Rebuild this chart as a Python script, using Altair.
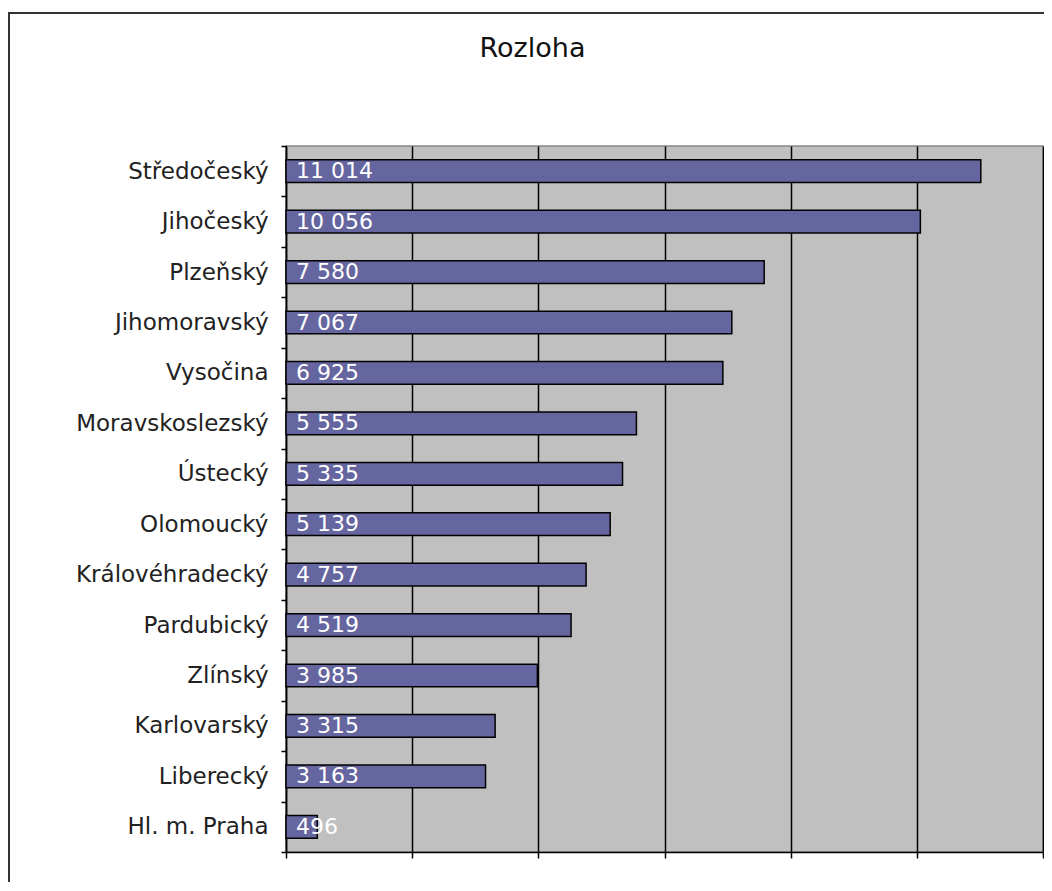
import altair as alt
import pandas as pd

kraje = ["Středočeský", "Jihočeský", "Plzeňský", "Jihomoravský", "Vysočina",
         "Moravskoslezský", "Ústecký", "Olomoucký", "Královéhradecký",
         "Pardubický", "Zlínský", "Karlovarský", "Liberecký", "Hl. m. Praha"]
rozloha = [11014, 10056, 7580, 7067, 6925, 5555, 5335, 5139, 4757, 4519,
           3985, 3315, 3163, 496]
x_ticks = [0, 2000, 4000, 6000, 8000, 10000, 12000]

df = pd.DataFrame({
    "kraj": kraje,
    "rozloha": rozloha,
    "label": [f"{v:,}".replace(",", " ") for v in rozloha],
})

FONT = "DejaVu Sans"

y_enc = alt.Y("kraj:N", sort=kraje, title=None,
              scale=alt.Scale(paddingInner=0, paddingOuter=0),
              axis=alt.Axis(tickBand="extent", tickSize=5, tickColor="#000",
                            tickWidth=1.5, domainColor="#000", domainWidth=1.5,
                            labelFont=FONT, labelFontSize=23, labelColor="#222",
                            labelPadding=13, labelLimit=400, grid=False))
x_enc = alt.X("rozloha:Q", title=None,
              scale=alt.Scale(domain=[0, 12000], nice=False),
              axis=alt.Axis(values=x_ticks, labels=False, tickSize=6,
                            tickColor="#000", tickWidth=1.5, domainColor="#000",
                            domainWidth=1.5, grid=True, gridColor="#000",
                            gridWidth=1.5))

bars = alt.Chart(df).mark_bar(
    height={"band": 0.45}, color="#65659f", stroke="#000", strokeWidth=1.5
).encode(x=x_enc, y=y_enc)

labels = alt.Chart(df).mark_text(
    align="left", baseline="middle", dx=10, color="white", font=FONT,
    fontSize=22
).encode(x=alt.X("zero:Q"), y=alt.Y("kraj:N", sort=kraje), text="label:N"
).transform_calculate(zero="0")

frame = alt.Chart(alt.Data(values=[{"a": 1}])).mark_rect(
    fill=None, stroke="#333", strokeWidth=2
).encode(x=alt.value(-277), y=alt.value(-133), x2=alt.value(900),
         y2=alt.value(900))

chart = alt.layer(frame, bars, labels).properties(
    width=757, height=706,
    padding={"left": 278, "top": 138, "right": 1, "bottom": 30},
    autosize=alt.AutoSizeParams(type="none"),
    title=alt.TitleParams("Rozloha", font=FONT, fontSize=27,
                          fontWeight="normal", color="#111", anchor="middle",
                          dx=-132, offset=0, dy=51),
).configure(
    background="white"
).configure_view(
    fill="#c0c0c0", stroke="#888", strokeWidth=1.5
)

chart.save("out.html", embed_options={"renderer": "svg", "actions": False})
